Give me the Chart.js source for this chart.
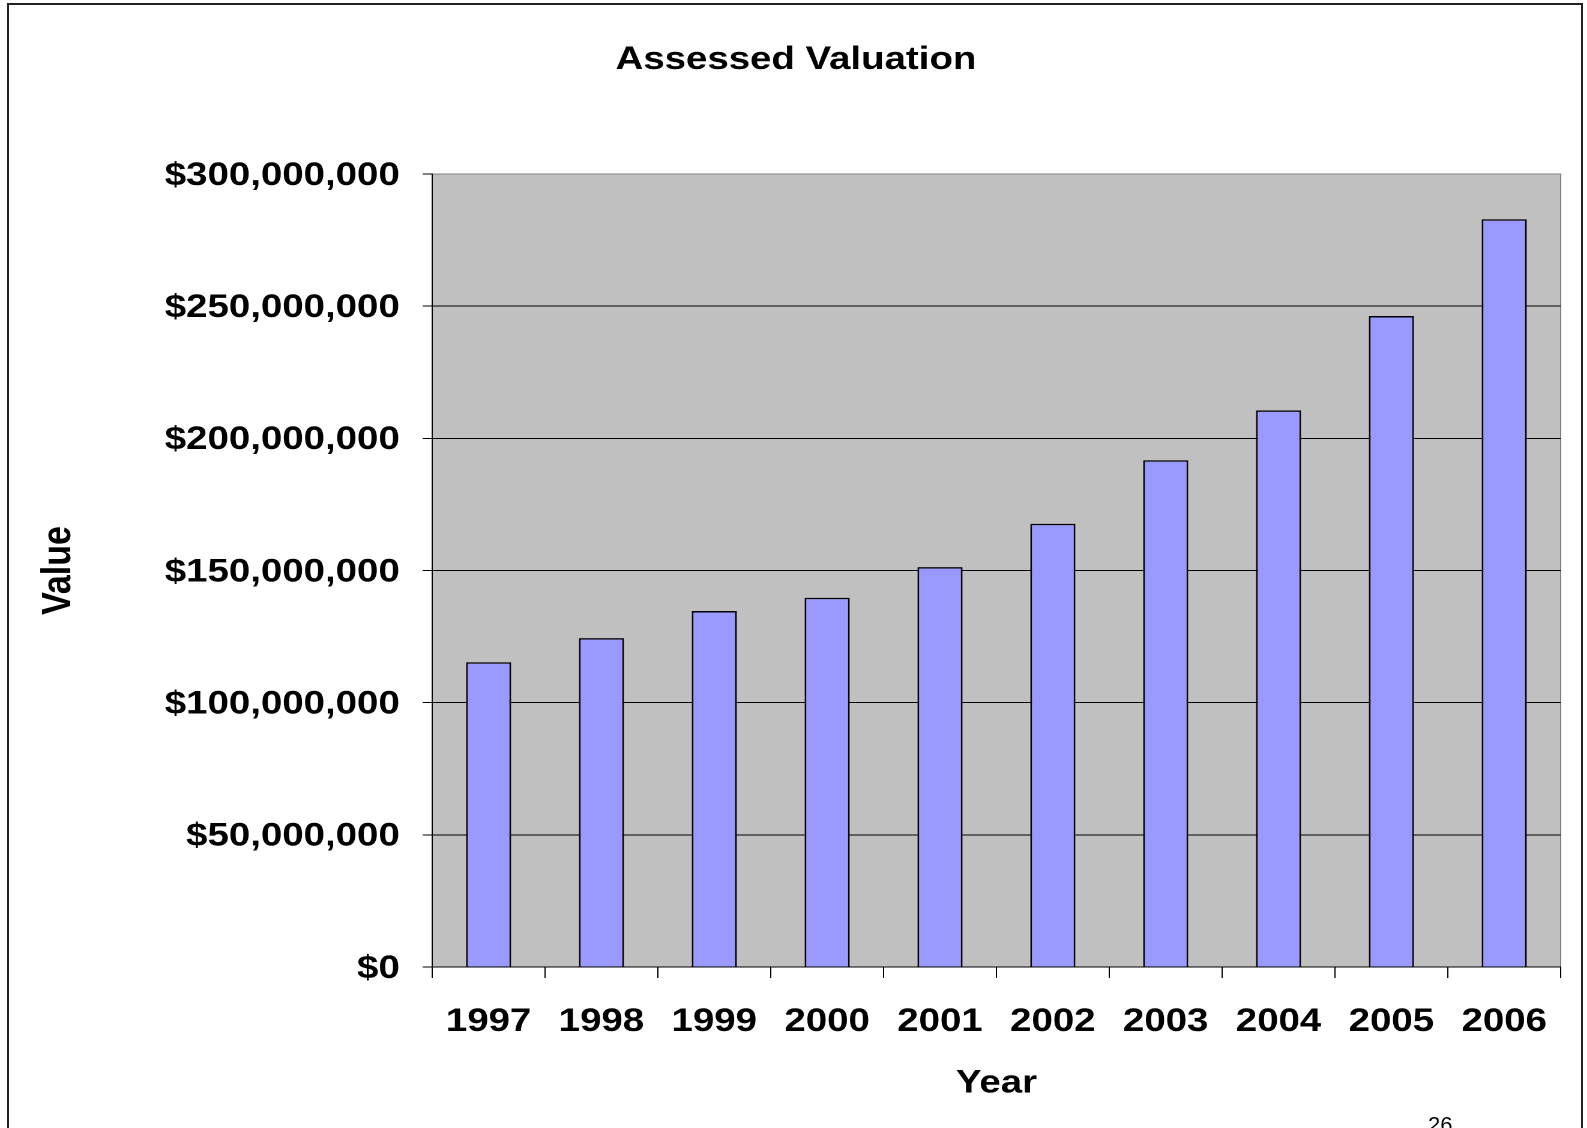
<!DOCTYPE html>
<html>
<head>
<meta charset="utf-8">
<script src="https://cdn.jsdelivr.net/npm/chart.js@4.4.1/dist/chart.umd.min.js"></script>
<style>
  body { margin: 0; background: #fff; overflow: hidden; width: 1587px; height: 1128px; position: relative; }
  #frame { position: absolute; left: 7px; top: 3px; width: 1572px; height: 1200px; border: 2px solid #222; }
  /* the slide was stretched sideways, so the chart is drawn narrower and widened */
  #chart-box { position: absolute; left: 0; top: 0; width: 1322px; height: 1128px; transform: scaleX(1.2005); transform-origin: 0 0; }
  #page-num { position: absolute; left: 1428px; top: 1114px; font: 22px/22px "Liberation Sans", Arial, sans-serif; color: #000; }
</style>
</head>
<body>
<div id="frame"></div>
<div id="chart-box"><canvas id="valuationChart"></canvas></div>
<div id="page-num">26</div>
<script>
// --- DONNÉES ---
const years = ['1997', '1998', '1999', '2000', '2001', '2002', '2003', '2004', '2005', '2006'];
const assessedValues = [115300000, 124400000, 134700000, 139700000, 151300000, 167700000, 191700000, 210600000, 246300000, 282900000];
const yMax = 300000000;
const yStep = 50000000;

const FONT = '"Liberation Sans", Arial, sans-serif';
const bigBold = { family: FONT, size: 32, weight: 'bold', lineHeight: 1.2 };

// fond gris + bord gris de la zone de tracé
const plotBg = {
    id: 'plotBg',
    beforeDraw(chart) {
        const { ctx, chartArea: a } = chart;
        ctx.save();
        ctx.fillStyle = '#c0c0c0';
        ctx.fillRect(a.left, a.top, a.right - a.left, a.bottom - a.top);
        ctx.strokeStyle = '#808080';
        ctx.lineWidth = 1;
        ctx.strokeRect(a.left, a.top, a.right - a.left, a.bottom - a.top);
        ctx.restore();
    }
};

const ctx = document.getElementById('valuationChart').getContext('2d');
new Chart(ctx, {
    type: 'bar',
    data: {
        labels: years,
        datasets: [{
            label: 'Assessed Valuation',
            data: assessedValues,
            backgroundColor: '#9999ff',
            borderColor: '#000',
            borderWidth: 1.5,
            barPercentage: 0.4,
            categoryPercentage: 1.0
        }]
    },
    options: {
        responsive: true,
        maintainAspectRatio: false,
        animation: false,
        devicePixelRatio: 2,
        layout: { padding: { left: 26, right: 22, top: 0, bottom: 25 } },
        plugins: {
            legend: { display: false },
            tooltip: { enabled: false },
            title: {
                display: true,
                text: 'Assessed Valuation',
                color: '#000',
                font: bigBold,
                padding: { top: 41, bottom: 94.6 }
            }
        },
        scales: {
            x: {
                afterFit: s => { s.height = 136; },
                grid: { offset: true, drawOnChartArea: false, drawTicks: true, tickLength: 11, color: '#000', lineWidth: 1 },
                border: { display: true, color: '#000', width: 1 },
                ticks: { color: '#000', font: bigBold, padding: 25, maxRotation: 0 },
                title: { display: true, text: 'Year', color: '#000', font: bigBold, padding: { top: 0, bottom: 0 } }
            },
            y: {
                min: 0,
                max: yMax,
                afterFit: s => { s.width = 334; },
                grid: {
                    color: c => (c.tick && c.tick.value === yMax) ? '#808080' : '#000',
                    tickColor: '#000',
                    lineWidth: 1,
                    drawTicks: true,
                    tickLength: 8
                },
                border: { display: true, color: '#000', width: 1 },
                ticks: {
                    stepSize: yStep,
                    color: '#000',
                    font: bigBold,
                    padding: 19,
                    labelOffset: 2,
                    callback: v => '$' + v.toLocaleString('en-US')
                },
                title: {
                    display: true, text: 'Value', color: '#000',
                    font: { family: FONT, size: 34, weight: 'bold', lineHeight: 1.2 },
                    padding: { top: 2.8, bottom: 0 }
                }
            }
        }
    },
    plugins: [plotBg]
});
</script>
</body>
</html>
